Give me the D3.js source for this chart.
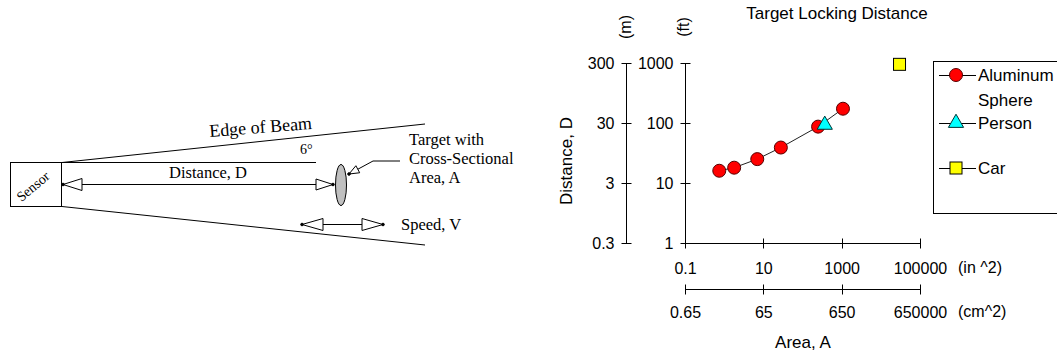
<!DOCTYPE html>
<html>
<head>
<meta charset="utf-8">
<script src="https://cdn.jsdelivr.net/npm/d3@7"></script>
<style>
  body { margin: 0; background: #fff; }
  svg { display: block; }
  .chart text { font-family: "Liberation Sans", Arial, sans-serif; fill: #000; }
  .diagram text { font-family: "Liberation Serif", "Times New Roman", serif; fill: #000; }
</style>
</head>
<body>
<script>
// series values (area in in^2, distance in ft)
const sphereArea = [0.75, 1.8, 7, 28, 250, 1080];
const sphereDist = [16, 18, 25, 39, 87, 173];
const personArea = [370];
const personDist = [93];
const carArea = [30000];
const carDist = [950];

// tick labels
const ftTicks = [1, 10, 100, 1000];
const mTicks = [0.3, 3, 30, 300];
const inTicks = [0.1, 10, 1000, 100000];
const cmTickLabels = ['0.65', '65', '650', '650000'];
const legendNames = ['Aluminum', 'Person', 'Car'];

const W = 1057, H = 358;
const svg = d3.select('body').append('svg').attr('width', W).attr('height', H);

// ---------- left diagram ----------
const dg = svg.append('g').attr('class', 'diagram')
    .attr('fill', 'none').attr('stroke', '#000').attr('stroke-width', 1);

// open triangle arrowhead, tip at (x, y), pointing along angle a (radians)
function arrowHead(x, y, a, len, half) {
    const bx = x - len * Math.cos(a), by = y - len * Math.sin(a);
    const px = -Math.sin(a) * half, py = Math.cos(a) * half;
    dg.append('path')
        .attr('d', `M${x},${y}L${bx + px},${by + py}L${bx - px},${by - py}Z`)
        .attr('fill', '#fff');
    dg.append('circle').attr('cx', x).attr('cy', y).attr('r', 1.3).attr('fill', '#000');
}

dg.append('rect').attr('x', 10.5).attr('y', 162.5).attr('width', 51).attr('height', 44).attr('fill', '#fff');
dg.append('text').attr('transform', 'translate(36,190) rotate(-40)')
    .attr('text-anchor', 'middle').attr('stroke', 'none').style('font-size', '14px').text('Sensor');

// beam edges and 6 degree reference
dg.append('line').attr('x1', 62).attr('y1', 162.5).attr('x2', 425).attr('y2', 124);
dg.append('line').attr('x1', 62).attr('y1', 206.5).attr('x2', 425).attr('y2', 245);
dg.append('line').attr('x1', 62).attr('y1', 162.5).attr('x2', 316).attr('y2', 162.5);
dg.append('text').attr('transform', 'translate(261,133) rotate(-4.5)')
    .attr('text-anchor', 'middle').attr('stroke', 'none').style('font-size', '18px').text('Edge of Beam');
dg.append('text').attr('x', 300).attr('y', 154).attr('stroke', 'none').style('font-size', '14px').text('6\u00b0');

// distance arrow
dg.append('line').attr('x1', 63).attr('y1', 184.5).attr('x2', 333).attr('y2', 184.5);
dg.append('text').attr('x', 208).attr('y', 178).attr('text-anchor', 'middle')
    .attr('stroke', 'none').style('font-size', '16.5px').text('Distance, D');
arrowHead(63, 184.5, Math.PI, 19, 6);
arrowHead(333, 184.5, 0, 17, 5.5);

// target
dg.append('ellipse').attr('cx', 341).attr('cy', 185).attr('rx', 5.5).attr('ry', 20.5).attr('fill', '#c0c0c0');
dg.append('polyline').attr('points', '400,161 373,161 349,174');
arrowHead(349, 174, Math.atan2(13, -24), 10, 4);
dg.append('text').attr('stroke', 'none').style('font-size', '16.5px')
    .selectAll('tspan').data(['Target with', 'Cross-Sectional', 'Area, A']).join('tspan')
    .attr('x', 409).attr('y', (d, i) => 145 + i * 19).text(d => d);

// speed arrow
dg.append('line').attr('x1', 302).attr('y1', 224.5).attr('x2', 383).attr('y2', 224.5);
arrowHead(302, 224.5, Math.PI, 21, 6);
arrowHead(383, 224.5, 0, 21, 6);
dg.append('text').attr('x', 401).attr('y', 230).attr('stroke', 'none').style('font-size', '16.5px').text('Speed, V');

// ---------- right chart ----------
const ch = svg.append('g').attr('class', 'chart');
const x = d3.scaleLog().domain([0.1, 100000]).range([685, 920]);
const y = d3.scaleLog().domain([1, 1000]).range([243, 63]);
const yM = d3.scaleLog().domain([0.3, 300]).range([243, 63]);

// axis: labels from d3, ticks drawn crossing the line like the original
function crossAxis(axis, vals, fmt, pos, vertical, scale, padding) {
    const g = ch.append('g').attr('transform', vertical ? `translate(${pos},0)` : `translate(0,${pos})`)
        .call(axis(scale).tickValues(vals).tickFormat(fmt).tickSize(0).tickPadding(padding));
    g.select('.domain').remove();
    g.selectAll('.tick line').remove();
    g.selectAll('.tick text').style('font-size', '16px');
    const r = scale.range();
    g.append('line').attr('stroke', '#000')
        .attr(vertical ? 'y1' : 'x1', Math.min(...r)).attr(vertical ? 'y2' : 'x2', Math.max(...r) + (vertical ? 1 : 0));
    g.selectAll('line.tk').data(vals).join('line').attr('class', 'tk').attr('stroke', '#000')
        .attr(vertical ? 'y1' : 'x1', d => Math.round(scale(d)) + 0.5)
        .attr(vertical ? 'y2' : 'x2', d => Math.round(scale(d)) + 0.5)
        .attr(vertical ? 'x1' : 'y1', -5).attr(vertical ? 'x2' : 'y2', 5);
    return g;
}

crossAxis(d3.axisLeft, ftTicks, d3.format(''), 685.5, true, y, 12);
crossAxis(d3.axisLeft, mTicks, d3.format(''), 626.5, true, yM, 12);
crossAxis(d3.axisBottom, inTicks, d3.format(''), 243.5, false, x, 19);
crossAxis(d3.axisBottom, inTicks, (d, i) => cmTickLabels[i], 289.5, false, x, 17);

// axis titles
ch.append('text').attr('x', 837).attr('y', 19).attr('text-anchor', 'middle').style('font-size', '17px').text('Target Locking Distance');
ch.append('text').attr('x', 803).attr('y', 348).attr('text-anchor', 'middle').style('font-size', '17px').text('Area, A');
ch.append('text').attr('x', 958).attr('y', 273).style('font-size', '16px').text('(in ^2)');
ch.append('text').attr('x', 958).attr('y', 317).style('font-size', '16px').text('(cm^2)');
ch.append('text').attr('transform', 'translate(572,161) rotate(-90)').attr('text-anchor', 'middle').style('font-size', '17px').text('Distance, D');
ch.append('text').attr('transform', 'translate(631,27) rotate(-90)').attr('text-anchor', 'middle').style('font-size', '16px').text('(m)');
ch.append('text').attr('transform', 'translate(689,27) rotate(-90)').attr('text-anchor', 'middle').style('font-size', '16px').text('(ft)');

// markers
const tri = d3.symbol().type(d3.symbolTriangle).size(100);
function marker(g, kind, cx, cy) {
    if (kind === 0) {
        g.append('circle').attr('cx', cx).attr('cy', cy).attr('r', 6.5)
            .attr('fill', '#ff0000').attr('stroke', '#500').attr('stroke-width', 1);
    } else if (kind === 1) {
        g.append('path').attr('d', tri).attr('transform', `translate(${cx},${cy})`)
            .attr('fill', '#00ffff').attr('stroke', '#033').attr('stroke-width', 1);
    } else {
        g.append('rect').attr('x', cx - 6).attr('y', cy - 6).attr('width', 12).attr('height', 12)
            .attr('fill', '#ffff00').attr('stroke', '#000').attr('stroke-width', 1);
    }
}

const sphere = sphereArea.map((a, i) => [a, sphereDist[i]]);
ch.append('path').datum(sphere)
    .attr('d', d3.line().x(d => x(d[0])).y(d => y(d[1])))
    .attr('fill', 'none').attr('stroke', '#222').attr('stroke-width', 1);
sphere.forEach(d => marker(ch, 0, x(d[0]), y(d[1])));
personArea.forEach((a, i) => marker(ch, 1, x(a), y(personDist[i])));
carArea.forEach((a, i) => marker(ch, 2, x(a), y(carDist[i])));

// legend
const lg = ch.append('g');
lg.append('rect').attr('x', 933.5).attr('y', 61.5).attr('width', 140).attr('height', 152)
    .attr('fill', 'none').attr('stroke', '#000');
const legY = [75, 123, 168];
legendNames.forEach((n, i) => {
    lg.append('line').attr('x1', 939).attr('x2', 976).attr('y1', legY[i] + 0.5).attr('y2', legY[i] + 0.5).attr('stroke', '#000');
    marker(lg, i, 956, legY[i]);
    lg.append('text').attr('x', 978).attr('y', legY[i] + 6).style('font-size', '17px').text(n);
});
lg.append('text').attr('x', 978).attr('y', 106).style('font-size', '17px').text('Sphere');
</script>
</body>
</html>
